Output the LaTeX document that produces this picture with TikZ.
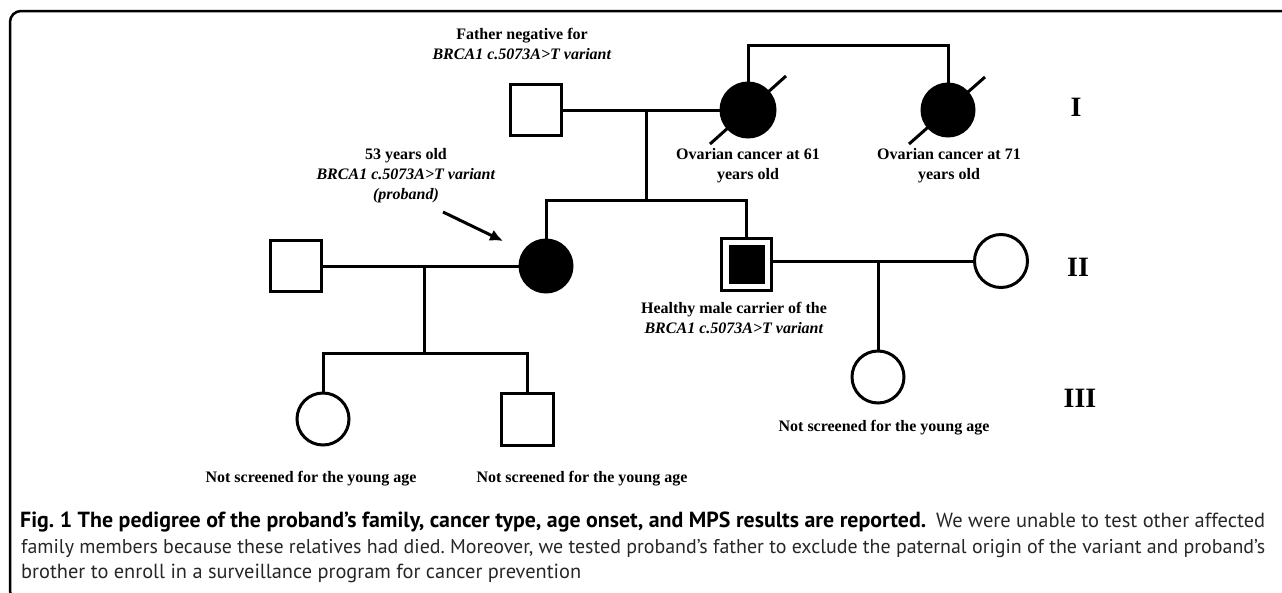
\documentclass[tikz,border=0pt]{standalone}
\usepackage{fontspec}
\setmainfont{Liberation Serif}
\newfontfamily\capfont{PT Sans}
\usetikzlibrary{arrows.meta,calc}
\frenchspacing
\newsavebox\capbox
\newcommand\fitline[3]{%
  \sbox\capbox{\capfont#2\fontsize{16}{20}\selectfont #3}%
  \pgfmathsetmacro\capratio{#1/\the\wd\capbox}%
  \pgfmathsetmacro\capfsz{16*\capratio}%
  {\capfont#2\fontsize{\capfsz pt}{20}\selectfont #3}}
\begin{document}
\begin{tikzpicture}[x=1pt,y=-1pt,
  ln/.style={line width=3pt},
  male/.style={draw, line width=3pt, rectangle, minimum size=51pt, inner sep=0pt, fill=white},
  female/.style={draw, line width=3pt, circle, minimum size=52pt, inner sep=0pt, fill=white},
  aff/.style={fill=black},
  lbl/.style={font=\fontsize{16}{20}\selectfont\bfseries, inner sep=0pt, align=center},
  gen/.style={font=\fontsize{28}{30}\selectfont\bfseries, inner sep=0pt},
  captext/.style={anchor=base west, inner sep=0pt, text=black!85}]
\useasboundingbox (0,0) rectangle (1282,592);
\clip (0,0) rectangle (1282,592);
% frame
\draw[line width=2.5pt, rounded corners=11pt] (1300,11) -- (10,11) -- (10,602) -- (40,602);

% generation I
\node[male] (fa) at (535.5,110) {};
\node[female, aff, minimum size=54pt] (gm) at (748,110) {};
\node[female, aff] (ga) at (948,110) {};
\draw[ln] ($(gm.center)+(-38,34)$) -- ($(gm.center)+(38,-34)$);
\draw[ln] ($(ga.center)+(-39,34)$) -- ($(ga.center)+(37,-33)$);
\coordinate (top) at (848,45);
\draw[ln] (gm.north) |- (top) -| (ga.north);
\draw[ln] (fa.east) -- (gm.west);
\coordinate (m1) at (646,110);
\coordinate (s1) at (646,200);
\draw[ln] (m1) -- (s1);

% generation II
\node[male] (sp) at (295.5,266) {};
\node[female, aff] (pb) at (546,266) {};
\node[male, minimum width=50pt, minimum height=52pt] (br) at (746.5,264) {};
\node[fill=black, minimum width=36pt, minimum height=39pt, inner sep=0pt] (brin) at (br.center) {};
\node[female, minimum size=53pt] (wi) at (1001,261) {};
\draw[ln] (pb.north) |- (s1) -| (br.north);
\draw[ln] (sp.east) -- (pb.west);
\draw[ln] (wi.west) -- (wi.west -| br.east);
\coordinate (a0) at (443,212);
\coordinate (a1) at (503,241);
\draw[ln, -{Latex[length=13pt,width=12pt]}] (a0) -- (a1);

% generation III
\coordinate (m2) at (424,266);
\coordinate (s2) at (424,353);
\node[female] (c1) at (323,419) {};
\node[male, minimum size=52pt] (c2) at (527,419) {};
\draw[ln] (m2) -- (s2);
\draw[ln] (c1.north) |- (s2) -| (c2.north);
\coordinate (m3) at (878,261);
\node[female] (c3) at (878,377) {};
\draw[ln] (m3) -- (c3.north);

% labels
\node[lbl] (tfa) at (522,43.5) {Father negative for\\\textit{BRCA1 c.5073A>T variant}};
\node[lbl] (tgm) at (748,166) {Ovarian cancer at 61\\years old};
\node[lbl] (tga) at (949,166) {Ovarian cancer at 71\\years old};
\node[lbl] (tpb) at (406,176) {53 years old\\\textit{BRCA1 c.5073A>T variant}\\\textit{(proband)}};
\node[lbl] (tbr) at (734,318) {Healthy male carrier of the\\\textit{BRCA1 c.5073A>T variant}};
\node[lbl] (tc1) at (311,479) {Not screened for the young age};
\node[lbl] (tc2) at (582,479) {Not screened for the young age};
\node[lbl] (tc3) at (884,428) {Not screened for the young age};
\node[gen] (g1) at (1076,107) {I};
\node[gen] (g2) at (1078,267) {II};
\node[gen] (g3) at (1080,398) {III};

% caption
\node[captext, text=black] (cap1a) at (20,527) {\fitline{906}{\bfseries}{Fig. 1 The pedigree of the proband’s family, cancer type, age onset, and MPS results are reported.}};
\node[captext] (cap1b) at (936,527) {\fitline{329}{}{We were unable to test other affected}};
\node[captext] (cap2) at (21,553) {\fitline{1244}{}{family members because these relatives had died. Moreover, we tested proband’s father to exclude the paternal origin of the variant and proband’s}};
\node[captext] (cap3) at (21,578) {\fitline{560}{}{brother to enroll in a surveillance program for cancer prevention}};
\end{tikzpicture}
\end{document}
